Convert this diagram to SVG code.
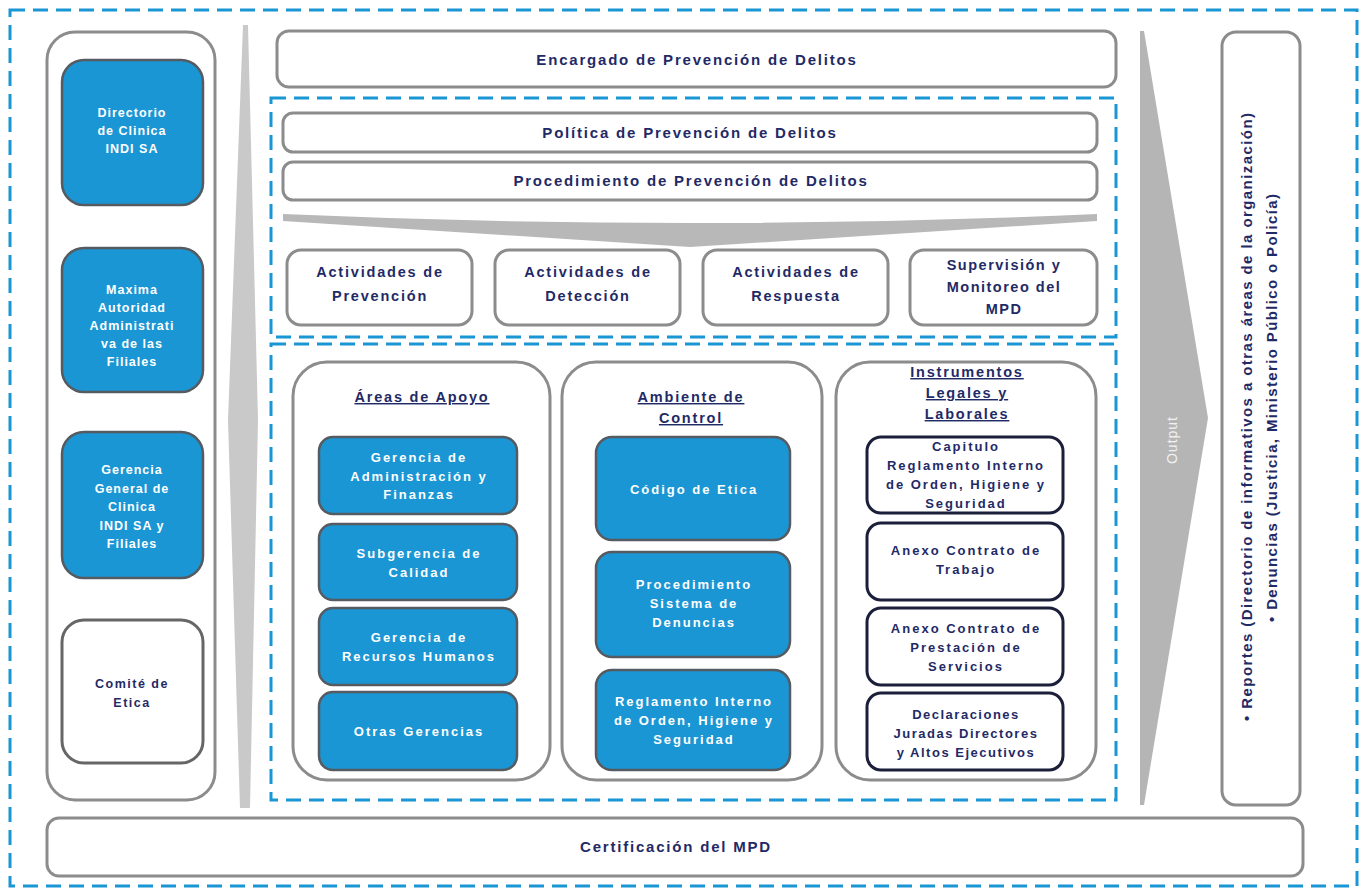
<svg xmlns="http://www.w3.org/2000/svg" width="1367" height="892" viewBox="0 0 1367 892">
<style>
.t{font-family:"Liberation Sans",Arial,sans-serif;font-weight:bold;fill:#1f2a66;text-anchor:middle}
.w{font-family:"Liberation Sans",Arial,sans-serif;font-weight:bold;fill:#ffffff;text-anchor:middle}
.box{fill:#ffffff;stroke:#8c8c8c;stroke-width:3}
.blue{fill:#1a96d4;stroke:#555b60;stroke-width:2.5}
.dk{fill:#ffffff;stroke:#1b1f3a;stroke-width:3}
.dash{fill:none;stroke:#1a96d4;stroke-width:3;stroke-dasharray:15 8}
.big{font-size:15px;letter-spacing:1.8px}
.act{font-size:14.5px;letter-spacing:1.8px}
.ttl{font-size:14.5px;letter-spacing:1.8px;text-decoration:underline}
.in{font-size:13px;letter-spacing:2px}
.lc{font-size:12.5px;letter-spacing:1px}
</style>
<rect width="1367" height="892" fill="#ffffff"/>
<g id="frame">
<rect class="dash" x="10" y="10" width="1347" height="876"/>
<rect class="dash" x="271" y="98" width="845" height="239"/>
<rect class="dash" x="271" y="344" width="845" height="456"/>
</g>
<g id="connectors">
<path d="M243,25 L248,25 L258,420 L250,808 L240,808 L228,420 Z" fill="#c9c9c9"/>
<path d="M283,214 Q690,232 1097,214 L1097,221 L690,247 L283,221 Z" fill="#b8b8b8"/>
<path d="M1140,31 L1144,31 L1208,418 L1144,805 L1140,805 Z" fill="#b5b5b5"/>
<text transform="translate(1177,440) rotate(-90)" font-family="Liberation Sans, Arial, sans-serif" font-size="14" fill="#f2f2f2" text-anchor="middle" letter-spacing="1">Output</text>
</g>
<g id="left-column">
<rect class="box" x="47" y="32" width="168" height="768" rx="28"/>
</g>
<g id="directorio">
<rect class="blue" x="62" y="60" width="141" height="145" rx="22"/>
<text class="w lc" x="132" y="117">Directorio<tspan x="132" dy="18">de Clinica</tspan><tspan x="132" dy="18">INDI SA</tspan></text>
</g>
<g id="maxima">
<rect class="blue" x="62" y="248" width="141" height="144" rx="22"/>
<text class="w lc" x="132" y="294">Maxima<tspan x="132" dy="18">Autoridad</tspan><tspan x="132" dy="18">Administrati</tspan><tspan x="132" dy="18">va de las</tspan><tspan x="132" dy="18">Filiales</tspan></text>
</g>
<g id="gerencia-general">
<rect class="blue" x="62" y="432" width="141" height="146" rx="22"/>
<text class="w lc" x="132" y="474">Gerencia<tspan x="132" dy="18.5">General de</tspan><tspan x="132" dy="18.5">Clinica</tspan><tspan x="132" dy="18.5">INDI SA y</tspan><tspan x="132" dy="18.5">Filiales</tspan></text>
</g>
<g id="comite">
<rect class="box" x="62" y="620" width="141" height="143" rx="22" style="stroke:#666"/>
<text class="t lc" x="132" y="688" style="letter-spacing:1.5px">Comité de<tspan x="132" dy="19">Etica</tspan></text>
</g>
<g id="encargado">
<rect class="box" x="277" y="31" width="839" height="56" rx="12"/>
<text class="t big" x="697" y="65">Encargado de Prevención de Delitos</text>
</g>
<g id="politica">
<rect class="box" x="283" y="113" width="814" height="39" rx="10"/>
<text class="t big" x="690" y="138">Política de Prevención de Delitos</text>
</g>
<g id="procedimiento">
<rect class="box" x="283" y="162" width="814" height="38" rx="10"/>
<text class="t big" x="691" y="186">Procedimiento de Prevención de Delitos</text>
</g>
<g id="act-prevencion">
<rect class="box" x="287" y="250" width="185" height="75" rx="14"/>
<text class="t act" x="380" y="277">Actividades de<tspan x="380" dy="24">Prevención</tspan></text>
</g>
<g id="act-deteccion">
<rect class="box" x="495" y="250" width="185" height="75" rx="14"/>
<text class="t act" x="588" y="277">Actividades de<tspan x="588" dy="24">Detección</tspan></text>
</g>
<g id="act-respuesta">
<rect class="box" x="703" y="250" width="185" height="75" rx="14"/>
<text class="t act" x="796" y="277">Actividades de<tspan x="796" dy="24">Respuesta</tspan></text>
</g>
<g id="supervision">
<rect class="box" x="910" y="250" width="187" height="75" rx="14"/>
<text class="t act" x="1004" y="270" style="letter-spacing:1.5px">Supervisión y<tspan x="1004" dy="22">Monitoreo del</tspan><tspan x="1004" dy="22">MPD</tspan></text>
</g>
<g id="areas-apoyo">
<rect class="box" x="293" y="362" width="257" height="418" rx="34"/>
<text class="t ttl" x="422" y="402">Áreas de Apoyo</text>
<rect class="blue" x="319" y="437" width="198" height="77" rx="14"/>
<text class="w in" x="419" y="462">Gerencia de<tspan x="419" dy="18.5">Administración y</tspan><tspan x="419" dy="18.5">Finanzas</tspan></text>
<rect class="blue" x="319" y="524" width="198" height="76" rx="14"/>
<text class="w in" x="419" y="558">Subgerencia de<tspan x="419" dy="19">Calidad</tspan></text>
<rect class="blue" x="319" y="608" width="198" height="77" rx="14"/>
<text class="w in" x="419" y="642">Gerencia de<tspan x="419" dy="19">Recursos Humanos</tspan></text>
<rect class="blue" x="319" y="692" width="198" height="78" rx="14"/>
<text class="w in" x="419" y="736">Otras Gerencias</text>
</g>
<g id="ambiente-control">
<rect class="box" x="562" y="362" width="260" height="418" rx="34"/>
<text class="t ttl" x="691" y="402">Ambiente de<tspan x="691" dy="21">Control</tspan></text>
<rect class="blue" x="596" y="437" width="194" height="103" rx="16"/>
<text class="w in" x="694" y="494">Código de Etica</text>
<rect class="blue" x="596" y="552" width="194" height="105" rx="16"/>
<text class="w in" x="694" y="589">Procedimiento<tspan x="694" dy="19">Sistema de</tspan><tspan x="694" dy="19">Denuncias</tspan></text>
<rect class="blue" x="596" y="670" width="194" height="100" rx="16"/>
<text class="w in" x="694" y="706">Reglamento Interno<tspan x="694" dy="19">de Orden, Higiene y</tspan><tspan x="694" dy="19">Seguridad</tspan></text>
</g>
<g id="instrumentos">
<rect class="box" x="836" y="362" width="260" height="418" rx="34"/>
<text class="t ttl" x="967" y="377">Instrumentos<tspan x="967" dy="21">Legales y</tspan><tspan x="967" dy="21">Laborales</tspan></text>
<rect class="dk" x="867" y="437" width="196" height="76" rx="14"/>
<text class="t in" x="966" y="451">Capitulo<tspan x="966" dy="19">Reglamento Interno</tspan><tspan x="966" dy="19">de Orden, Higiene y</tspan><tspan x="966" dy="19">Seguridad</tspan></text>
<rect class="dk" x="867" y="523" width="196" height="77" rx="14"/>
<text class="t in" x="966" y="555">Anexo Contrato de<tspan x="966" dy="19">Trabajo</tspan></text>
<rect class="dk" x="867" y="608" width="196" height="77" rx="14"/>
<text class="t in" x="966" y="633">Anexo Contrato de<tspan x="966" dy="19">Prestación de</tspan><tspan x="966" dy="19">Servicios</tspan></text>
<rect class="dk" x="867" y="693" width="196" height="77" rx="14"/>
<text class="t in" x="966" y="719" style="letter-spacing:1.5px">Declaraciones<tspan x="966" dy="19">Juradas Directores</tspan><tspan x="966" dy="19">y Altos Ejecutivos</tspan></text>
</g>
<g id="outputs">
<rect class="box" x="1222" y="32" width="78" height="773" rx="14"/>
<text class="t" font-size="15" transform="translate(1252,417) rotate(-90)" textLength="608" lengthAdjust="spacing">• Reportes (Directorio de informativos a otras áreas de la organización)</text>
<text class="t" font-size="15" transform="translate(1277,408) rotate(-90)" textLength="428" lengthAdjust="spacing">• Denuncias (Justicia, Ministerio Público o Policía)</text>
</g>
<g id="certificacion">
<rect class="box" x="47" y="818" width="1256" height="58" rx="12"/>
<text class="t big" x="676" y="852">Certificación del MPD</text>
</g>
</svg>
